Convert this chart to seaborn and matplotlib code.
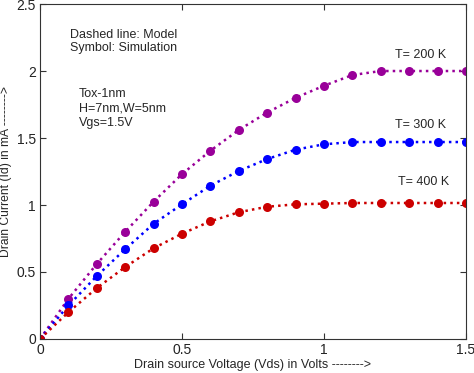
import numpy as np
import pandas as pd
import seaborn as sns
import matplotlib.pyplot as plt

vds = [0.0, 0.1, 0.2, 0.3, 0.4, 0.5, 0.6, 0.7, 0.8, 0.9, 1.0, 1.1, 1.2, 1.3, 1.4, 1.5]
id_200k = [0.0, 0.30, 0.56, 0.80, 1.025, 1.23, 1.405, 1.56, 1.69, 1.80, 1.89, 1.97, 2.0, 2.0, 2.0, 2.0]
id_300k = [0.0, 0.25, 0.47, 0.67, 0.86, 1.005, 1.144, 1.254, 1.343, 1.413, 1.453, 1.47, 1.47, 1.47, 1.47, 1.47]
id_400k = [0.0, 0.20, 0.38, 0.537, 0.677, 0.786, 0.878, 0.946, 0.987, 1.005, 1.01, 1.015, 1.015, 1.015, 1.015, 1.015]
temps = ["T= 200 K", "T= 300 K", "T= 400 K"]
colors = ["#990099", "#0000ff", "#cc0000"]

sns.set_style("ticks")
plt.rcParams["font.family"] = ["Liberation Sans", "DejaVu Sans"]

df = pd.DataFrame({
    "Vds": vds * 3,
    "Id": id_200k + id_300k + id_400k,
    "T": [temps[0]] * len(vds) + [temps[1]] * len(vds) + [temps[2]] * len(vds),
})

fig = plt.figure(figsize=(4.74, 3.73), dpi=100)
ax = fig.add_axes([0.0844, 0.0912, 0.8986, 0.898])

sns.lineplot(data=df, x="Vds", y="Id", hue="T", palette=colors, marker="o",
             markersize=6.5, markeredgewidth=0, linestyle=":", linewidth=1.8,
             legend=False, ax=ax)

ax.set_xlim(0, 1.5)
ax.set_ylim(0, 2.5)
ax.set_xticks([0, 0.5, 1, 1.5])
ax.set_xticklabels(["0", "0.5", "1", "1.5"])
ax.set_yticks([0, 0.5, 1, 1.5, 2, 2.5])
ax.set_yticklabels(["0", "0.5", "1", "1.5", "2", "2.5"])
ax.tick_params(direction="in", top=True, right=True, labelsize=10, length=4,
               color="#333333", labelcolor="#222222", pad=3)
for s in ax.spines.values():
    s.set_color("#333333")
    s.set_linewidth(0.8)

ax.set_xlabel("Drain source Voltage (Vds) in Volts -------->", fontsize=9, labelpad=1)
ax.set_ylabel("Drain Current (Id) in mA -------->", fontsize=8.7)
ax.yaxis.set_label_coords(-0.066, 0.5)

ax.text(0.105, 2.22, "Dashed line: Model\nSymbol: Simulation", fontsize=9,
        va="center", linespacing=1.2)
ax.text(0.136, 1.72, "Tox-1nm\nH=7nm,W=5nm\nVgs=1.5V", fontsize=9,
        va="center", linespacing=1.25)
ax.text(1.34, 2.12, temps[0], fontsize=9, ha="center", va="center")
ax.text(1.34, 1.6, temps[1], fontsize=9, ha="center", va="center")
ax.text(1.35, 1.17, temps[2], fontsize=9, ha="center", va="center")

fig.savefig("out.png", dpi=100)
